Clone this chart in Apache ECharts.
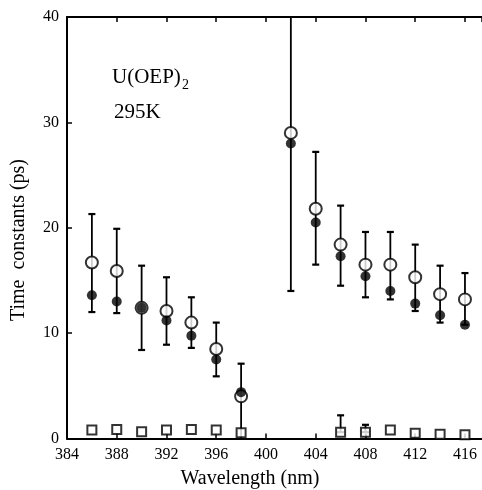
<!DOCTYPE html>
<html>
<head>
<meta charset="utf-8">
<script src="https://cdn.jsdelivr.net/npm/echarts@6/dist/echarts.min.js"></script>
<style>html,body{margin:0;padding:0;background:#fff;}#c{width:482px;height:490px;}</style>
</head>
<body>
<div id="c"></div>
<script>
// Wavelengths (nm)
var wavelengths = [386, 388, 390, 392, 394, 396, 398, 402, 404, 406, 408, 410, 412, 414, 416];
// Open circles (ps)
var openCircles = [16.7, 15.9, 12.4, 12.1, 11.0, 8.5, 4.0, 29.0, 21.8, 18.4, 16.5, 16.5, 15.3, 13.7, 13.2];
// Filled circles (ps)
var filledCircles = [13.6, 13.0, 12.4, 11.2, 9.75, 7.5, 4.4, 28.0, 20.5, 17.3, 15.4, 14.0, 12.8, 11.7, 10.8];
// Error bar upper / lower ends (ps)
var errUpper = [21.3, 19.9, 16.4, 15.3, 13.4, 11.0, 7.1, 40, 27.2, 22.1, 19.6, 19.6, 18.4, 16.4, 15.7];
var errLower = [12.0, 11.9, 8.4, 8.9, 8.6, 5.9, 0, 14.0, 16.5, 14.5, 13.4, 13.2, 12.1, 11.0, 10.8];
// Open squares (ps)
var squareWl = [386, 388, 390, 392, 394, 396, 398, 406, 408, 410, 412, 414, 416];
var squares = [0.8, 0.85, 0.65, 0.8, 0.85, 0.8, 0.55, 0.6, 0.6, 0.8, 0.5, 0.4, 0.35];
// Square error bars
var sqErrWl = [406, 408];
var sqErrLow = [0.6, 0.6];
var sqErrHigh = [2.2, 1.3];
// Axis ticks
var xTicks = [384, 388, 392, 396, 400, 404, 408, 412, 416];
var yTicks = [0, 10, 20, 30, 40];

var SERIF = '"Liberation Serif","DejaVu Serif",serif';

var errData = wavelengths.map(function (w, i) { return [w, errLower[i], errUpper[i]]; });
sqErrWl.forEach(function (w, i) { errData.push([w, sqErrLow[i], sqErrHigh[i]]); });

function renderErr(params, api) {
  var x = api.value(0), lo = api.value(1), hi = api.value(2);
  var p1 = api.coord([x, lo]), p2 = api.coord([x, hi]);
  var ch = [{ type: 'line', shape: { x1: p1[0], y1: p1[1], x2: p2[0], y2: p2[1] }, style: { stroke: '#000', lineWidth: 1.8 } }];
  if (lo > 0) ch.push({ type: 'line', shape: { x1: p1[0] - 3.5, y1: p1[1], x2: p1[0] + 3.5, y2: p1[1] }, style: { stroke: '#000', lineWidth: 2.2 } });
  if (hi < 40) ch.push({ type: 'line', shape: { x1: p2[0] - 3.5, y1: p2[1], x2: p2[0] + 3.5, y2: p2[1] }, style: { stroke: '#000', lineWidth: 2.2 } });
  return { type: 'group', children: ch };
}

var chart = echarts.init(document.getElementById('c'), null, { renderer: 'canvas' });
chart.setOption({
  animation: false,
  backgroundColor: '#fff',
  grid: { left: 67, right: 0, top: 17, bottom: 51.5, containLabel: false },
  xAxis: [{
    type: 'value', min: 384, max: 417.37, interval: 4, position: 'bottom',
    axisLine: { show: true, onZero: false, lineStyle: { color: '#000', width: 2 } },
    axisTick: { show: true, inside: true, length: 5, lineStyle: { color: '#000', width: 1.5 } },
    axisLabel: { show: true, color: '#000', fontFamily: SERIF, fontSize: 16, margin: 8, showMaxLabel: false,
      formatter: function (v) { return xTicks.indexOf(v) >= 0 ? String(v) : ''; } },
    splitLine: { show: false }
  }, {
    type: 'value', min: 384, max: 417.37, interval: 4, position: 'top',
    axisLine: { show: true, onZero: false, lineStyle: { color: '#000', width: 2 } },
    axisTick: { show: true, inside: true, length: 5, lineStyle: { color: '#000', width: 1.5 } },
    axisLabel: { show: false }, splitLine: { show: false }
  }],
  yAxis: [{
    type: 'value', min: 0, max: 40, interval: 10,
    axisLine: { show: true, onZero: false, lineStyle: { color: '#000', width: 2 } },
    axisTick: { show: true, inside: true, length: 5, lineStyle: { color: '#000', width: 1.5 } },
    axisLabel: { color: '#000', fontFamily: SERIF, fontSize: 16, margin: 8,
      formatter: function (v) { return yTicks.indexOf(v) >= 0 ? String(v) : ''; } },
    splitLine: { show: false }
  }],
  graphic: [
    { type: 'text', left: 112, top: 67, style: { text: 'U(OEP)', fontFamily: SERIF, fontSize: 21, fill: '#000' } },
    { type: 'text', left: 182, top: 78, style: { text: '2', fontFamily: SERIF, fontSize: 14, fill: '#000' } },
    { type: 'text', left: 114, top: 102, style: { text: '295K', fontFamily: SERIF, fontSize: 21, fill: '#000' } },
    { type: 'text', x: 250, y: 479, style: { text: 'Wavelength (nm)', fontFamily: SERIF, fontSize: 20, fill: '#000', align: 'center', verticalAlign: 'middle' } },
    { type: 'text', x: 19, y: 240, rotation: Math.PI / 2, style: { text: 'Time  constants (ps)', fontFamily: SERIF, fontSize: 20, fill: '#000', align: 'center', verticalAlign: 'middle' } }
  ],
  series: [
    { type: 'custom', renderItem: renderErr, data: errData, encode: { x: 0, y: [1, 2] }, clip: false, z: 1 },
    { type: 'scatter', data: squareWl.map(function (w, i) { return [w, squares[i]]; }),
      symbol: 'rect', symbolSize: 9, itemStyle: { color: '#fff', borderColor: '#000', borderWidth: 2 }, z: 2 },
    { type: 'scatter', data: wavelengths.map(function (w, i) { return [w, openCircles[i]]; }),
      symbol: 'circle', symbolSize: 12, itemStyle: { color: '#fff', borderColor: '#000', borderWidth: 2 }, z: 3 },
    { type: 'scatter', data: wavelengths.map(function (w, i) { return [w, filledCircles[i]]; }),
      symbol: 'circle', symbolSize: 10, itemStyle: { color: '#000', borderColor: '#000', borderWidth: 0 }, z: 4 }
  ]
});
</script>
</body>
</html>
